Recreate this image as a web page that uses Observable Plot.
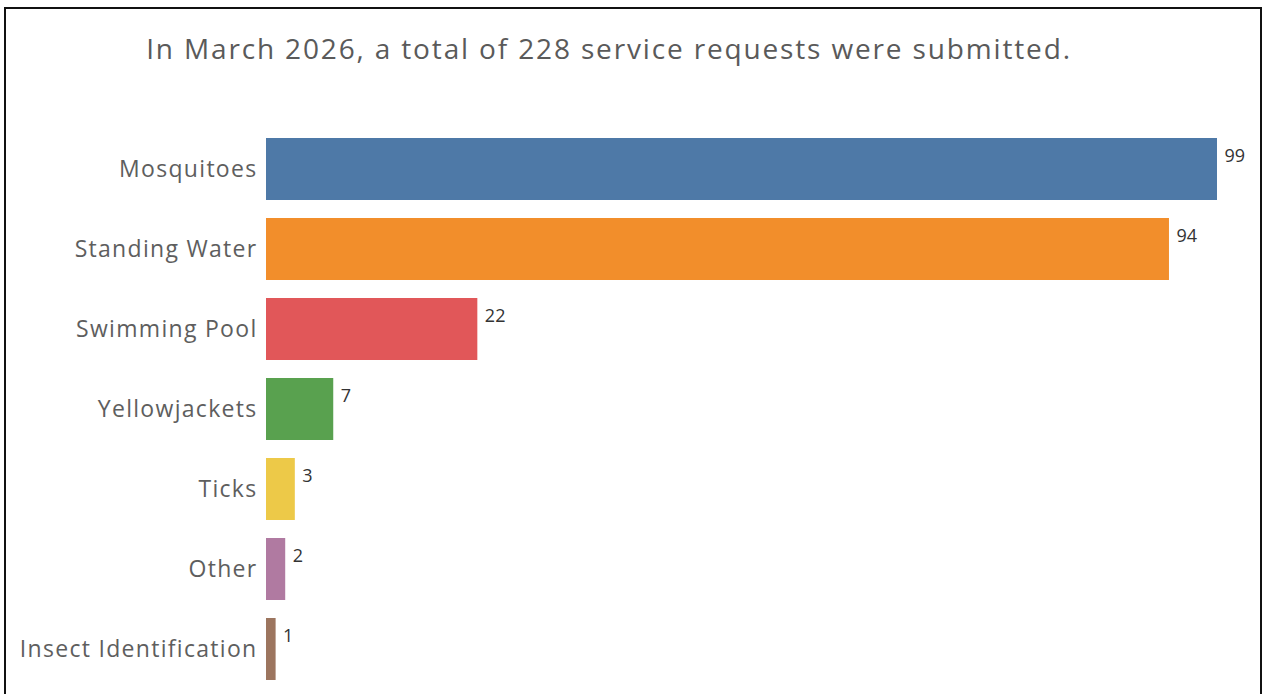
<!DOCTYPE html>
<html>
<head>
<meta charset="utf-8">
<script src="https://cdn.jsdelivr.net/npm/d3@7"></script>
<script src="https://cdn.jsdelivr.net/npm/@observablehq/plot@0.6"></script>
<style>
  html, body { margin: 0; padding: 0; background: #fff; width: 1262px; height: 694px; overflow: hidden; }
  #frame { position: absolute; left: 4px; top: 7px; width: 1254px; height: 700px;
           border-top: 2px solid #111; border-left: 2px solid #111; border-right: 2px solid #111; box-sizing: content-box; }
  #title { position: absolute; left: 0; top: 28px; width: 1218px; text-align: center;
           font-family: "Open Sans", sans-serif; font-size: 28px; letter-spacing: 1.85px; color: #5a5a5a; line-height: 40px; }
  #chart { position: absolute; left: 0; top: 0; }
  #chart svg g[aria-label="y-axis tick label"] text { letter-spacing: 1.3px; }
</style>
</head>
<body>
<div id="frame"></div>
<div id="title">In March 2026, a total of 228 service requests were submitted.</div>
<div id="chart"></div>
<script>
const categories = ["Mosquitoes", "Standing Water", "Swimming Pool", "Yellowjackets", "Ticks", "Other", "Insect Identification"];
const counts = [99, 94, 22, 7, 3, 2, 1];
const colors = ["#4e79a7", "#f28e2b", "#e15759", "#59a14f", "#edc948", "#b07aa1", "#9c755f"];

const data = categories.map((c, i) => ({category: c, count: counts[i]}));

const plot = Plot.plot({
  width: 1262,
  height: 694,
  marginLeft: 266,
  marginRight: 45,
  marginTop: 137,
  marginBottom: 14,
  style: {background: "transparent", fontFamily: "Open Sans, sans-serif"},
  x: {domain: [0, 99], axis: null},
  y: {domain: categories, paddingInner: 0.225, paddingOuter: 0, label: null},
  color: {domain: categories, range: colors},
  marks: [
    Plot.barX(data, {x: "count", y: "category", fill: "category"}),
    Plot.axisY({tickSize: 0, tickPadding: 9, fontSize: 23, fill: "#5e5e5e", label: null}),
    Plot.text(data, {x: "count", y: "category", text: d => String(d.count), textAnchor: "start",
      dx: 7, dy: -13, fontSize: 18, fill: "#333"})
  ]
});
document.getElementById("chart").appendChild(plot);
</script>
</body>
</html>
